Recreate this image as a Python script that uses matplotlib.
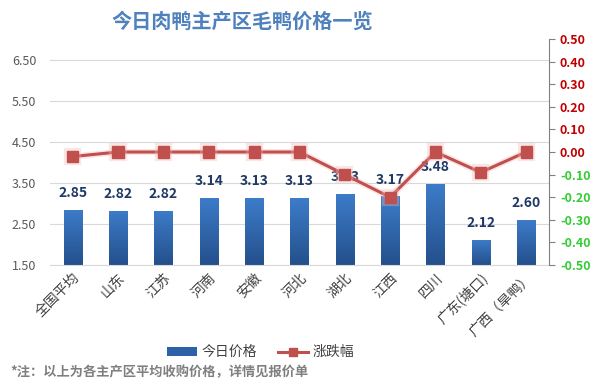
import numpy as np
import matplotlib
matplotlib.use('Agg')
import matplotlib.pyplot as plt
import matplotlib.patheffects as pe
from matplotlib.lines import Line2D
from matplotlib.patches import Patch

plt.rcParams['font.family'] = ['Noto Sans CJK SC', 'DejaVu Sans']

# 数据
regions = ['全国平均', '山东', '江苏', '河南', '安徽', '河北', '湖北', '江西', '四川', '广东(塘口)', '广西（旱鸭）']
prices = [2.85, 2.82, 2.82, 3.14, 3.13, 3.13, 3.23, 3.17, 3.48, 2.12, 2.60]
changes = [-0.02, 0.00, 0.00, 0.00, 0.00, 0.00, -0.10, -0.20, 0.00, -0.09, 0.00]
left_ticks = [1.5, 2.5, 3.5, 4.5, 5.5, 6.5]
right_ticks = [0.5, 0.4, 0.3, 0.2, 0.1, 0.0, -0.1, -0.2, -0.3, -0.4, -0.5]

fig = plt.figure(figsize=(5.92, 3.9), dpi=100)
ax = fig.add_axes([0.0845, 0.3205, 0.8425, 0.5795])
x = np.arange(len(regions))

bars = ax.bar(x, prices, width=0.4, color='#3468ad', zorder=2)

# 渐变填充
grad = np.linspace(0, 1, 100).reshape(-1, 1)
cmap = matplotlib.colors.LinearSegmentedColormap.from_list('b', ['#24508c', '#3d7cc9'])
for b in bars:
    bx = b.get_x()
    im = ax.imshow(grad, cmap=cmap, aspect='auto', origin='lower',
                   extent=[bx, bx + b.get_width(), 1.5, b.get_height()], zorder=2)
    im.set_clip_path(b)
ax.set_xlim(-0.5, len(regions) - 0.5)
ax.set_ylim(1.5, 7.0)

for xi, p in zip(x, prices):
    ax.annotate('%.2f' % p, (xi, p), xytext=(0, 7), textcoords='offset points',
                ha='center', va='bottom', fontsize=10, fontweight='bold', color='#1f3864', zorder=3)

ax.set_yticks(left_ticks)
ax.set_yticklabels(['%.2f' % t for t in left_ticks], fontsize=9, color='#595959')
ax.yaxis.grid(True, color='#d9d9d9', linewidth=0.8, zorder=0)
ax.set_axisbelow(True)
ax.tick_params(axis='y', length=0, pad=10)
ax.set_xticks(x)
ax.set_xticklabels(regions, rotation=45, ha='right', rotation_mode='anchor', fontsize=10, color='#404040')
ax.tick_params(axis='x', length=0, pad=4)
for s in ['top', 'left', 'right']:
    ax.spines[s].set_visible(False)
ax.spines['bottom'].set_color('#d9d9d9')

ax2 = ax.twinx()
ax2.plot(x, changes, color='#c0504d', linewidth=2.2, marker='s', markersize=8,
         path_effects=[pe.Stroke(linewidth=4.5, foreground='#f2b8b6', alpha=0.35), pe.Normal()], zorder=4)
ax2.set_ylim(-0.5, 0.5)
ax2.set_yticks(right_ticks)
ax2.set_yticklabels(['%.2f' % t for t in right_ticks], fontsize=9, fontweight='bold')
for lab, t in zip(ax2.get_yticklabels(), right_ticks):
    lab.set_color('#c00000' if t >= 0 else '#33cc33')
ax2.tick_params(axis='y', length=4, color='#808080', pad=4)
for s in ['top', 'left', 'bottom']:
    ax2.spines[s].set_visible(False)
ax2.spines['right'].set_color('#808080')

fig.text(0.41, 0.945, '今日肉鸭主产区毛鸭价格一览', ha='center', va='center',
         fontsize=14.5, fontweight='bold', color='#4f81bd')

handles = [Patch(facecolor='#2e62a8', label='今日价格'),
           Line2D([0], [0], color='#c0504d', linewidth=2.2, marker='s', markersize=6, label='涨跌幅')]
fig.legend(handles=handles, loc='center', bbox_to_anchor=(0.44, 0.097), ncol=2, frameon=False,
           fontsize=10, labelcolor='#404040', handlelength=2.2, handletextpad=0.3,
           columnspacing=1.5, handleheight=0.6)

fig.text(0.017, 0.045, '*注：以上为各主产区平均收购价格，详情见报价单', ha='left', va='center',
         fontsize=9.5, fontweight='bold', color='#7f7f7f')

fig.savefig('out.png', dpi=100)
